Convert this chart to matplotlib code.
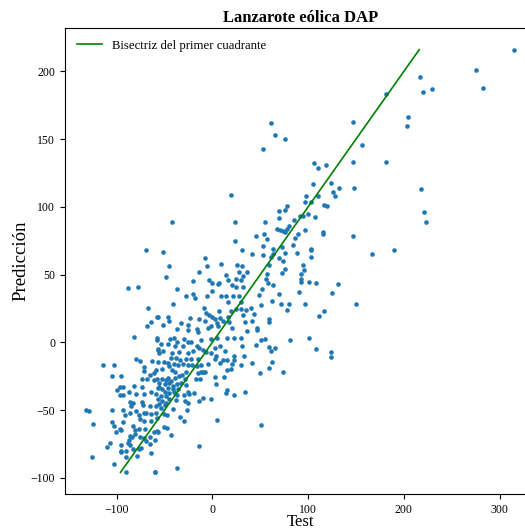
import numpy as np
import matplotlib
matplotlib.use("Agg")
import matplotlib.pyplot as plt

plt.rcParams["font.family"] = ["Liberation Serif", "DejaVu Serif"]

# (test, predicción) pairs, grouped by zone of the cloud
far_left = np.array([
    (-69, 68), (-88, 40), (-78, 41), (-67, 25),
    (-58, 19), (-64, 15), (-68, 12), (-82, 4), (-58, 2), (-57, -5), (-56, -8),
    (-80, -12), (-76, -14), (-63, -14), (-72, -18), (-72, -21), (-114, -17),
    (-103, -17), (-105, -25), (-95, -25), (-65, -24), (-61, -23), (-74, -27),
    (-68, -27), (-61, -28), (-97, -33), (-93, -33), (-82, -32), (-74, -33), (-57, -34),
])

low_left = np.array([
    (-100, -35), (-97, -39), (-93, -39), (-87, -37), (-80, -38), (-72, -38), (-64, -37),
    (-86, -44), (-83, -45), (-74, -44), (-73, -46), (-85, -47), (-65, -47), (-59, -47),
    (-132, -50), (-129, -51), (-105, -50), (-93, -50), (-86, -52), (-80, -51),
    (-72, -52), (-69, -52), (-64, -53), (-59, -52), (-91, -54), (-77, -54),
    (-76, -57), (-71, -58), (-64, -58), (-58, -56),
    (-125, -60), (-105, -59), (-103, -62), (-93, -59), (-97, -64), (-95, -65),
    (-101, -66), (-83, -62), (-81, -65), (-77, -64), (-70, -64), (-61, -66), (-57, -66),
    (-86, -69), (-84, -70), (-81, -68), (-87, -72), (-76, -70), (-72, -71),
    (-69, -73), (-65, -70),
    (-107, -74), (-88, -74), (-86, -76), (-95, -76), (-110, -77), (-96, -80),
    (-95, -81), (-90, -80), (-83, -79), (-77, -79), (-75, -78), (-65, -75), (-64, -82),
    (-126, -85), (-103, -90), (-90, -85), (-79, -84), (-90, -96), (-60, -96),
])

centre = np.array([
    (-45, 56), (-6, 56), (9, 58), (26, 57), (31, 56), (27.5, 52), (32, 49), (36, 52),
    (-49, 48), (-14, 52), (14, 50), (-20, 45), (-4, 46), (0, 44), (6, 43), (7, 44),
    (16, 46), (25, 47), (30, 46), (20.5, 42), (25, 41), (32, 41), (-36.5, 39),
    (0, 38), (-20, 36), (-28, 34), (-18, 33), (-6, 34), (9, 34), (14, 34), (22, 34),
    (28, 34), (16, 30), (30, 30), (-41, 28), (-9, 25), (-7, 21.5), (-4, 20), (7, 23),
    (19, 23), (30, 24.5), (35, 23.5), (25, 24.5), (40, 25), (32, 20.5), (-57, 19),
    (-46, 18.6), (-45, 16), (-23, 17.6), (-14, 17), (0, 19), (3, 17), (8, 18),
    (11, 16), (16, 19), (17, 15), (43, 21), (41, 15.6), (34.5, 15), (-52, 12.7),
    (-33, 14.6), (-25, 13), (-8, 15.6), (4.5, 14), (6, 12), (-4.5, 10.7), (-2, 11.7),
    (-16, 9.7), (-36.5, 9.7), (-25, 9.3), (-15, 7.8), (20, 10.7), (36.5, 8.3),
    (-58, 3.4), (-44, 2.4), (-40, 3.4), (-36.5, 0), (-30, 2.4), (-25, 0.4), (-22, 0),
    (-11.5, 1.4), (-1, 2.4), (5, 3), (15, 3.4), (23, 3), (30, 3), (-54, -1),
    (-46, -1.5), (-39, -2.5), (-31, -3), (-16, -3), (-14, -4.5), (-10, -5.4),
    (-7, -7), (2.4, -4), (8, -3), (31, -2.5), (-57, -6), (-52, -6.4), (-42, -8),
    (-35, -7.4), (-26, -8), (-20, -6.4), (-2, -8), (4, -10), (13, -6.4), (22.6, -10),
    (33, -10.3), (-43.5, -11.3), (-38, -11.8), (-34, -12.8), (-28, -12.3),
    (-22, -12.3), (-15, -12.3), (2.4, -12.3), (11.5, -13.3), (15.7, -13.3),
    (23, -12.8), (-57, -14.3), (-50.5, -14.3), (-46, -15.2), (-40, -15.7),
    (-36, -16.7), (-31, -16.2), (-25, -16.7), (-21, -16.7), (-16.4, -17.7),
    (-45, -17.2), (-11.5, -16.7), (-4.5, -16.2), (8, -15.2), (20.5, -16.2),
    (29.6, -16.7), (41.4, -15.2),
])

low_centre = np.array([
    (-59, -20.6), (-52.5, -20), (-42, -20.6), (-38.6, -22), (-31.7, -24), (-27.5, -22),
    (-15, -23), (-11.5, -21.6), (-9.4, -22), (-7.3, -21.6), (2.4, -25.5),
    (12.2, -25.5), (15.7, -20.6), (19.8, -20), (-57.4, -27), (-52.5, -27),
    (-49, -28), (-46.3, -26), (-43.5, -28.4), (-39.3, -26), (-35, -25),
    (-29, -27.4), (-17, -27.4), (-13, -27), (-55.3, -30.4), (-49.8, -31),
    (-45, -30.4), (-40.7, -32), (-36.5, -31), (-32.4, -30.4), (-56, -33.3),
    (-52.5, -34.3), (-46.3, -33.8), (-41.4, -34.3), (-35.8, -34.3), (-27.5, -31.4),
    (3.8, -31), (15.7, -35.3), (14.3, -37.7), (22.6, -38.7), (33.8, -36.8),
    (-49.8, -36.8), (-45, -37.2), (-40, -36.8), (-36.5, -39.2), (-58.8, -38.2),
    (-54, -39.7), (-48.4, -39.7), (-29.6, -38.7), (-25.4, -36.8), (-24, -38.2),
    (-19, -37.7), (-14.3, -43), (-10, -41.2), (-1.7, -42), (-56.7, -42),
    (-52.5, -43), (-45.6, -42), (-38, -42.6), (-28.2, -43), (-25.4, -44.6),
    (-55.3, -45.6), (-48.4, -44.6), (-49.8, -46.6), (-53.2, -48.5), (-40.7, -49),
    (-26.8, -50), (-47, -53.4), (-50.5, -53), (-33.7, -55.4), (-29.6, -58.3),
    (5.2, -57.3), (-57.4, -65.2), (-50.5, -62.7), (-47.7, -63.2), (-42.8, -68.6),
    (-59.5, -72), (-14.3, -76.4), (-37.2, -92.6), (-59.5, -95.6),
    (49.8, -23), (74.1, -22.1), (51.2, -61.3),
])

upper_centre = np.array([
    (73.4, 60.2), (59.5, 57.3), (95, 56.8), (95.7, 53.4), (75.5, 54.3), (72.7, 51.4),
    (57.4, 50.4), (92.2, 50.4), (56, 46.5), (92.9, 47), (92.2, 44.5), (58, 44),
    (63, 42.6), (100.6, 44.5), (108.2, 43.6), (131.2, 43.1), (52, 39.6), (90.8, 37.2),
    (69.3, 35.7), (124.9, 36.2), (48.4, 34.7), (62.3, 30.3), (51.2, 27.4),
    (71.3, 27.9), (79.7, 27.9), (97.1, 27.9), (78.3, 24), (116.6, 23), (111, 19.6),
    (59.5, 17), (58.8, 15), (47, 10.7), (47, 9.3), (101.3, 2.9), (81, 1.4),
    (51.2, 1.9), (54.6, 2.4), (45.6, -2), (58.8, -3.5), (65.8, -4.5), (60.9, -6.4),
    (108.2, -5), (124.2, -7.4), (124.2, -10.8), (62.3, -14.3), (58.8, -18.7),
])

upper = np.array([
    (61.6, 162.1), (65.1, 153.3), (75.5, 150.4), (52.6, 142.5), (147.2, 162.6),
    (106.1, 132.2), (110.3, 128.8), (118.7, 130.8), (146.5, 133.2), (104.8, 116.6),
    (124.2, 117.6), (126.3, 111.2), (128.4, 108.2), (132.6, 113.6), (147.9, 113.6),
    (97.8, 108.2), (110.3, 108.2), (96.4, 103.3), (102.7, 103.8), (116.6, 101.4),
    (119.4, 100.4), (69.3, 97), (76.2, 98), (77.6, 100.4), (70, 92.1), (99.9, 95),
    (107.5, 92.6), (54.6, 88.6), (85.3, 90.6), (80.4, 86.2), (91.5, 93.5), (95, 93.5),
    (67.9, 83.3), (70.6, 82.8), (74.1, 81.8), (76.2, 81.3), (77.6, 83.3), (96.4, 82.8),
    (115.2, 81.3), (115.9, 79.8), (89.4, 79.8), (45.6, 78.4), (53.9, 80.3), (86, 76.9),
    (147.2, 78.4), (57.4, 75.9), (52.6, 71), (63.7, 68.6), (72.7, 70.5), (83.9, 72),
    (102.7, 69), (103.4, 68.1), (52.6, 64.6), (63, 65.1), (76.2, 66.1), (88, 66.1),
    (61.6, 63.2), (69.3, 62.2), (102.7, 63.2),
    (19.8, 108.4), (-42.1, 88.8), (24, 88.8), (23.3, 75.1), (-51.2, 67),
    (31, 68), (-7.3, 62.4), (41.4, 64.8),
])

far_right = np.array([
    (315, 216), (275, 201), (283, 188), (217, 196), (220, 185), (229, 187),
    (181, 183), (204, 166), (203, 160), (156, 146), (181, 133), (218, 113),
    (221, 96), (223, 89), (190, 68), (167, 65), (150, 28),
])

groups = [far_left, low_left, centre, low_centre, upper_centre, upper, far_right]
data = np.concatenate(groups)
test = data[:, 0]
pred = data[:, 1]

fig = plt.figure(figsize=(5.25, 5.3), dpi=100)
ax = fig.add_axes([65 / 525, 36 / 530, 471 / 525, 466 / 530])

ax.scatter(test, pred, s=11, color="#1f77b4", linewidths=0)
lo, hi = pred.min(), pred.max()
ax.plot([lo, hi], [lo, hi], color="green", lw=1.2,
        label="Bisectriz del primer cuadrante")

ax.set_xlim(-154, 338)
ax.set_ylim(-112, 232)
ax.set_xticks([-100, 0, 100, 200, 300])
ax.set_yticks([-100, -50, 0, 50, 100, 150, 200])
ax.tick_params(labelsize=8.5)

ax.set_title("Lanzarote eólica DAP", fontsize=12, fontweight="bold", pad=4)
ax.set_xlabel("Test", fontsize=12, labelpad=-1)
ax.set_ylabel("Predicción", fontsize=13.5, labelpad=1)
ax.legend(loc="upper left", frameon=False, fontsize=9.2)

fig.savefig("out.png", dpi=100)
